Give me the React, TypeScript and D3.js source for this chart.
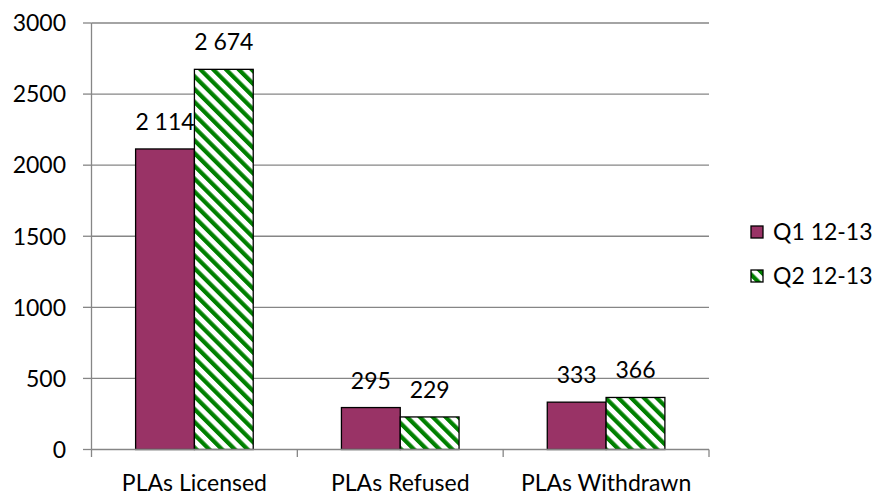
import React from "react";
import * as d3 from "d3";

const categories = ["PLAs Licensed", "PLAs Refused", "PLAs Withdrawn"];
const seriesNames = ["Q1 12-13", "Q2 12-13"];
const q1Values = [2114, 295, 333];
const q2Values = [2674, 229, 366];
const yTicks = [0, 500, 1000, 1500, 2000, 2500, 3000];

const FONT = "Lato, 'Open Sans', sans-serif";
const FS = "23px";
const AXIS = "#868686";

const App = () => {
  const ref = React.useRef<SVGSVGElement>(null);

  React.useEffect(() => {
    const svg = d3.select(ref.current);
    svg.selectAll("*").remove();

    const left = 91.5, right = 709, top = 23, bottom = 449.5;

    const y = d3.scaleLinear().domain([0, 3000]).range([bottom, top]);
    const x = d3.scaleBand().domain(categories).range([left, right]).paddingInner(0).paddingOuter(0);
    const barW = x.bandwidth() / 3.5;
    const inner = d3.scaleBand().domain(seriesNames).range([0, barW * 2]);

    const fmt = d3.formatLocale({ decimal: ",", thousands: " ", grouping: [3], currency: ["", ""] }).format(",");

    // pattern
    const defs = svg.append("defs");
    const pat = defs.append("pattern")
      .attr("id", "stripes")
      .attr("patternUnits", "userSpaceOnUse")
      .attr("width", 9.05)
      .attr("height", 9.05)
      .attr("patternTransform", "rotate(-45)");
    pat.append("rect").attr("width", 9.05).attr("height", 9.05).attr("fill", "white");
    pat.append("rect").attr("x", 0).attr("width", 4.2).attr("height", 9.05).attr("fill", "#008000");

    const fills = ["#993366", "url(#stripes)"];

    // gridlines
    svg.append("g").selectAll("line")
      .data(yTicks.filter(d => d > 0))
      .join("line")
      .attr("x1", left).attr("x2", right)
      .attr("y1", d => y(d)).attr("y2", d => y(d))
      .attr("stroke", AXIS).attr("stroke-width", 1.3);

    // y axis
    svg.append("line")
      .attr("x1", left).attr("x2", left).attr("y1", top).attr("y2", bottom)
      .attr("stroke", AXIS).attr("stroke-width", 1.3);
    svg.append("g").selectAll("line")
      .data(yTicks)
      .join("line")
      .attr("x1", left - 8.5).attr("x2", left)
      .attr("y1", d => y(d)).attr("y2", d => y(d))
      .attr("stroke", AXIS).attr("stroke-width", 1.3);
    svg.append("g").selectAll("text")
      .data(yTicks)
      .join("text")
      .attr("x", 66).attr("y", d => y(d))
      .attr("dy", "0.36em")
      .attr("text-anchor", "end")
      .attr("font-family", FONT).attr("font-size", FS).attr("fill", "#000")
      .text(d => d);

    // bars
    const series = [q1Values, q2Values];
    series.forEach((vals, si) => {
      const g = svg.append("g");
      g.selectAll("rect")
        .data(vals)
        .join("rect")
        .attr("x", (d, i) => (x(categories[i]) as number) + x.bandwidth() / 2 - barW + (inner(seriesNames[si]) as number))
        .attr("y", d => y(d))
        .attr("width", barW)
        .attr("height", d => bottom - y(d))
        .attr("fill", fills[si])
        .attr("stroke", "#000")
        .attr("stroke-width", 1.3);
      g.selectAll("text")
        .data(vals)
        .join("text")
        .attr("x", (d, i) => (x(categories[i]) as number) + x.bandwidth() / 2 - barW + (inner(seriesNames[si]) as number) + barW / 2)
        .attr("y", d => y(d) - 19)
        .attr("text-anchor", "middle")
        .attr("font-family", FONT).attr("font-size", FS).attr("fill", "#000")
        .text(d => fmt(d));
    });

    // x axis
    svg.append("line")
      .attr("x1", left).attr("x2", right).attr("y1", bottom).attr("y2", bottom)
      .attr("stroke", AXIS).attr("stroke-width", 1.3);
    const bounds = categories.map(c => x(c) as number).concat([right]);
    svg.append("g").selectAll("line")
      .data(bounds)
      .join("line")
      .attr("x1", d => d).attr("x2", d => d)
      .attr("y1", bottom).attr("y2", bottom + 7.5)
      .attr("stroke", AXIS).attr("stroke-width", 1.3);
    svg.append("g").selectAll("text")
      .data(categories)
      .join("text")
      .attr("x", d => (x(d) as number) + x.bandwidth() / 2)
      .attr("y", 491)
      .attr("text-anchor", "middle")
      .attr("font-family", FONT).attr("font-size", FS).attr("fill", "#000")
      .text(d => d);

    // legend
    const legend = svg.append("g");
    seriesNames.forEach((name, i) => {
      const cy = 232 + i * 44;
      legend.append("rect")
        .attr("x", 751).attr("y", cy - 6).attr("width", 12).attr("height", 12)
        .attr("fill", fills[i]).attr("stroke", "#000").attr("stroke-width", 1.3);
      legend.append("text")
        .attr("x", 773).attr("y", cy).attr("dy", "0.36em")
        .attr("font-family", FONT).attr("font-size", FS).attr("fill", "#000")
        .text(name);
    });
  }, []);

  return (
    <svg ref={ref} width={875} height={496}
      style={{ position: "absolute", left: 0, top: 0, background: "#fff" }} />
  );
};

export default App;
